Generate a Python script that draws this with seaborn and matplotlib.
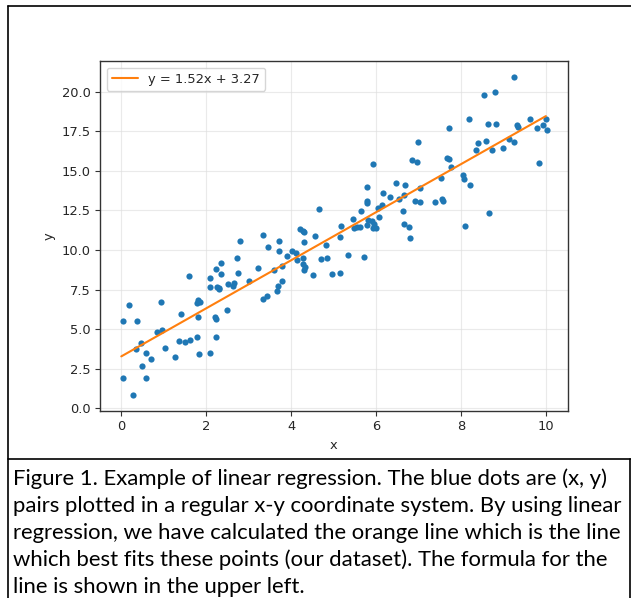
## Regresion lineal: puntos + recta ajustada ##
import numpy as np
import pandas as pd
import matplotlib
matplotlib.use("Agg")
import matplotlib.pyplot as plt
from matplotlib.lines import Line2D
import seaborn as sns

# Datos
x_vals = [0.04, 0.18, 0.04, 0.27, 0.37, 0.35, 0.46, 0.59, 0.49, 0.59,
          0.71, 0.84, 0.95, 0.94, 1.04, 1.26, 1.36, 1.41, 1.49, 1.60,
          1.62, 1.78, 1.80, 1.82, 1.78, 1.81, 1.86, 2.08, 2.09, 2.10,
          2.21, 2.24, 2.24, 2.24, 2.25, 2.29, 2.31, 2.34, 2.36, 2.49,
          2.52, 2.63, 2.66, 2.72, 2.74, 2.79, 3.00, 3.22, 3.34, 3.34,
          3.44, 3.45, 3.60, 3.66, 3.69, 3.72, 3.72, 3.79, 3.79, 3.91,
          4.03, 4.12, 4.15, 4.21, 4.27, 4.31, 4.30, 4.28, 4.29, 4.33,
          4.30, 4.52, 4.56, 4.65, 4.70, 4.85, 4.82, 4.96, 5.16, 5.15,
          5.18, 5.33, 5.45, 5.48, 5.55, 5.62, 5.64, 5.71, 5.78, 5.78,
          5.78, 5.82, 5.79, 5.91, 5.95, 5.94, 6.00, 5.94, 6.05, 6.08,
          6.13, 6.17, 6.33, 6.47, 6.53, 6.63, 6.66, 6.69, 6.66, 6.77,
          6.80, 6.84, 6.98, 6.97, 6.92, 7.04, 7.04, 7.40, 7.55, 7.58,
          7.53, 7.73, 7.68, 7.73, 7.76, 8.05, 8.07, 8.21, 8.09, 8.20,
          8.54, 8.80, 9.25, 8.64, 8.82, 8.40, 8.35, 8.60, 8.74, 8.98,
          9.14, 9.25, 9.33, 9.34, 9.63, 9.79, 9.93, 10.01, 10.02, 9.83,
          8.65]
y_vals = [5.49, 6.52, 1.88, 0.84, 5.53, 3.73, 4.09, 3.48, 2.66, 1.88,
          3.10, 4.83, 4.92, 6.73, 3.80, 3.23, 4.24, 5.93, 4.18, 8.35,
          4.30, 4.47, 5.78, 3.40, 6.63, 6.84, 6.69, 3.48, 7.64, 8.23,
          5.74, 5.61, 4.51, 8.80, 7.68, 7.51, 7.59, 9.20, 8.50, 6.18,
          7.83, 7.72, 7.93, 9.51, 8.54, 10.59, 8.06, 8.88, 10.97, 6.88,
          7.09, 10.17, 8.73, 7.42, 7.72, 10.55, 9.96, 8.99, 8.02, 9.62,
          9.96, 9.81, 9.37, 11.33, 11.22, 11.12, 10.53, 9.47, 9.13, 8.94,
          8.73, 8.40, 10.87, 12.59, 9.45, 9.51, 10.30, 8.50, 8.52, 10.82,
          11.50, 9.68, 11.98, 11.37, 11.46, 11.47, 12.47, 9.54, 14.01, 13.12,
          12.99, 11.90, 11.58, 11.85, 11.65, 11.41, 11.41, 15.44, 12.68, 12.07,
          12.85, 13.63, 13.34, 14.26, 13.21, 12.47, 11.65, 14.13, 13.46, 11.43,
          10.76, 15.70, 16.86, 15.55, 13.12, 13.06, 13.92, 13.01, 13.25, 13.08,
          14.58, 17.70, 15.80, 15.78, 15.25, 14.73, 14.47, 14.13, 11.54, 18.31,
          19.79, 20.00, 20.95, 17.96, 17.96, 16.79, 16.33, 16.90, 16.31, 16.47,
          17.00, 16.84, 17.93, 17.77, 18.31, 17.72, 17.89, 18.31, 17.58, 15.52,
          12.32]

# Coeficientes de la recta
pendiente = 1.52
intercepto = 3.27
x_rango = [0, 10]

caption_lines = [
    "Figure 1. Example of linear regression. The blue dots are (x, y)",
    "pairs plotted in a regular x-y coordinate system. By using linear",
    "regression, we have calculated the orange line which is the line",
    "which best fits these points (our dataset). The formula for the",
    "line is shown in the upper left.",
]

df = pd.DataFrame({"x": x_vals, "y": y_vals})
x_line = np.linspace(x_rango[0], x_rango[1], 100)
df_line = pd.DataFrame({"x": x_line, "y": pendiente * x_line + intercepto})

sns.set_style("ticks")
plt.rcParams["font.family"] = ["DejaVu Sans"]
fs = 9.4

W, H = 631, 598
fig = plt.figure(figsize=(W / 100, H / 100), dpi=100)
ax = fig.add_axes([100 / W, 1 - 410.7 / H, 468 / W, 349.7 / H])

sns.scatterplot(data=df, x="x", y="y", ax=ax, s=20, color="#1f77b4",
                linewidth=0, zorder=3)
sns.lineplot(data=df_line, x="x", y="y", ax=ax, color="#ff7f0e", lw=1.5,
             label="y = {:.2f}x + {:.2f}".format(pendiente, intercepto), zorder=4)

ax.grid(True, color="#dddddd", alpha=0.6, lw=0.8)
for s in ax.spines.values():
    s.set_color("#333333")
    s.set_linewidth(1.0)
ax.tick_params(labelsize=fs, length=3.3, width=0.8, color="#333333")
ax.set_xlabel("x", fontsize=fs)
ax.set_ylabel("y", fontsize=fs)
ax.legend(loc="upper left", fontsize=fs, frameon=True, fancybox=True,
          framealpha=0.8, edgecolor="#cccccc")

# Bordes de la tabla (pixeles -> coordenadas de figura)
def px(x, y):
    return x / W, 1 - y / H

for (x0, y0), (x1, y1) in [((8, 6), (631, 6)), ((8, 6), (8, 598)),
                           ((8, 459), (631, 459)), ((630, 459), (630, 598))]:
    a, b = px(x0, y0)
    c, d = px(x1, y1)
    fig.add_artist(Line2D([a, c], [b, d], color="black", lw=1.2,
                          transform=fig.transFigure))

for i, linea in enumerate(caption_lines):
    xx, yy = px(13, 479 + 27 * i)
    fig.text(xx, yy, linea, fontsize=15.9, family="Lato", va="center",
             ha="left", color="black")

fig.savefig("out.png", dpi=100)
